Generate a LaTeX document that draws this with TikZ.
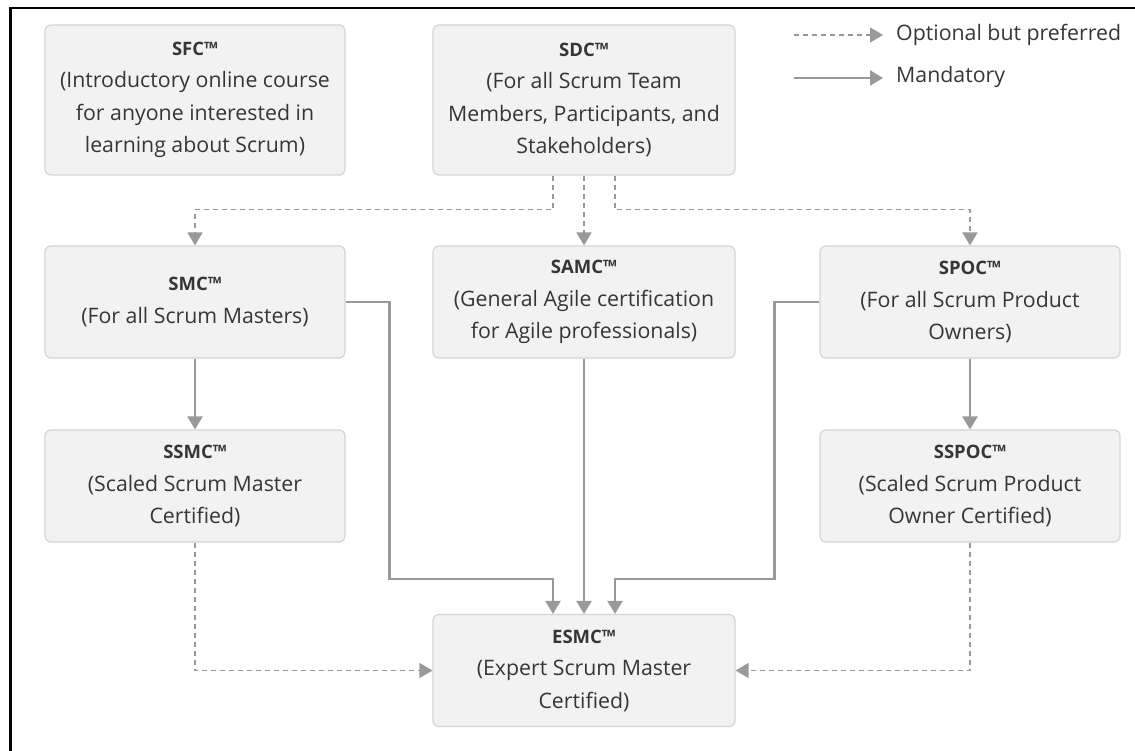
\documentclass[tikz,border=0pt]{standalone}
\usepackage{fontspec}
\setmainfont{Open Sans}
\usetikzlibrary{arrows.meta,calc}
\definecolor{boxfill}{HTML}{F2F2F2}
\definecolor{boxline}{HTML}{D4D4D4}
\definecolor{conn}{HTML}{999999}
\definecolor{txt}{HTML}{363636}
\tikzset{
  card/.style={draw=boxline, line width=1.2pt, fill=boxfill, rounded corners=6pt,
    minimum width=#1, minimum height=112pt, inner sep=0pt},
  card/.default=300pt,
  label text/.style={text=txt, align=center, font=\fontsize{21.3}{32.5}\selectfont, inner sep=0pt},
  tip/.style={-{Triangle[width=15pt,length=13pt]}},
  mand/.style={draw=conn, line width=2.4pt, tip},
  opt/.style={draw=conn, line width=1.7pt, dash pattern=on 5pt off 4pt, tip},
  legtxt/.style={text=txt, font=\fontsize{21.3}{24}\selectfont, anchor=west, inner sep=0pt},
}
\newcommand{\ttl}[1]{{\fontsize{18.5}{32.5}\selectfont\bfseries #1}}
\begin{document}
\begin{tikzpicture}[x=1pt,y=-1pt]
\useasboundingbox (0,0) rectangle (1135,751);
\draw[black, line width=2.5pt] (1135,7.8) -- (10.3,7.8) -- (10.3,751);

% boxes
\node[card, minimum height=150pt] (sfc) at (195,100) {};
\node[card=302pt, minimum height=150pt] (sdc) at (584,100) {};
\node[card] (smc) at (195,302) {};
\node[card=302pt] (samc) at (584,302) {};
\node[card] (spoc) at (970,302) {};
\node[card] (ssmc) at (195,486) {};
\node[card] (sspoc) at (970,486) {};
\node[card=302pt] (esmc) at (584,670.5) {};

% texts
\node[label text] (sfct) at (sfc) {\ttl{SFC™}\\(Introductory online course\\for anyone interested in\\learning about Scrum)};
\node[label text] (sdct) at (sdc) {\ttl{SDC™}\\(For all Scrum Team\\Members, Participants, and\\Stakeholders)};
\node[label text] (smct) at (smc) {\ttl{SMC™}\\(For all Scrum Masters)};
\node[label text] (samct) at (samc) {\ttl{SAMC™}\\(General Agile certification\\for Agile professionals)};
\node[label text] (spoct) at (spoc) {\ttl{SPOC™}\\(For all Scrum Product\\Owners)};
\node[label text] (ssmct) at (ssmc) {\ttl{SSMC™}\\(Scaled Scrum Master\\Certified)};
\node[label text] (sspoct) at (sspoc) {\ttl{SSPOC™}\\(Scaled Scrum Product\\Owner Certified)};
\node[label text] (esmct) at (esmc) {\ttl{ESMC™}\\(Expert Scrum Master\\Certified)};

% connectors from SDC (optional)
\draw[opt] ([xshift=-31pt]sdc.south) -- ++(0,34) -| (smc.north);
\draw[opt] (sdc.south) -- (samc.north);
\draw[opt] ([xshift=31pt]sdc.south) -- ++(0,34) -| (spoc.north);

% mandatory
\draw[mand] (smc.south) -- (ssmc.north);
\draw[mand] (spoc.south) -- (sspoc.north);
\draw[mand] (smc.east) -- ++(44,0) -- ++(0,277) -| ([xshift=-31pt]esmc.north);
\draw[mand] (samc.south) -- (esmc.north);
\draw[mand] (spoc.west) -- ++(-45,0) -- ++(0,277) -| ([xshift=31pt]esmc.north);

% optional to ESMC
\draw[opt] (ssmc.south) |- (esmc.west);
\draw[opt] (sspoc.south) |- (esmc.east);

% legend
\coordinate (lo1) at (794,35);
\coordinate (lo2) at (883,35);
\coordinate (lm1) at (794,78);
\coordinate (lm2) at (883,78);
\draw[opt] (lo1) -- (lo2);
\draw[mand] (lm1) -- (lm2);
\node[legtxt] (lot) at (896,35) {Optional but preferred};
\node[legtxt] (lmt) at (896,77) {Mandatory};
\end{tikzpicture}
\end{document}
